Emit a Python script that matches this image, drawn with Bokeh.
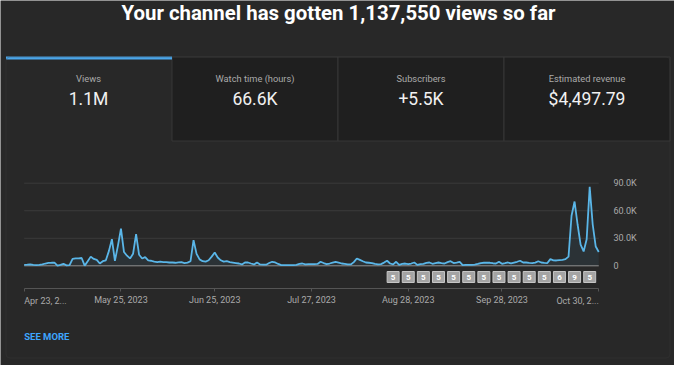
import numpy as np
from bokeh.plotting import figure
from bokeh.models import Range1d, LinearAxis, FixedTicker, BoxAnnotation
from bokeh.core.properties import value
from bokeh.embed import file_html
from bokeh.resources import INLINE

# ---------------- data ----------------
title_text = "Your channel has gotten 1,137,550 views so far"
card_labels = ["Views", "Watch time (hours)", "Subscribers", "Estimated revenue"]
card_values = ["1.1M", "66.6K", "+5.5K", "$4,497.79"]
start_date = "2023-04-23"  # day 0
# daily views (thousands), Apr 23 .. Oct 30, 2023
views_k = [
    1.0, 1.2, 1.5, 1.0, 0.8, 1.0, 1.5, 2.5, 3.2, 3.3,
    3.5, 0.3, 1.0, 2.2, 0.5, 0.8, 7.5, 8.0, 8.0, 8.5,
    0.2, 5.0, 10.0, 7.5, 6.5, 2.5, 5.0, 6.0, 16.0, 29.0,
    5.5, 22.0, 40.5, 15.0, 11.0, 8.0, 13.0, 34.5, 12.0, 8.0,
    9.5, 6.0, 5.5, 4.5, 4.0, 4.5, 4.0, 4.0, 3.6, 3.6,
    3.3, 3.8, 4.0, 3.0, 3.5, 5.0, 28.0, 13.0, 7.0, 5.0,
    4.5, 6.0, 10.0, 14.5, 9.0, 6.0, 4.5, 5.0, 4.0, 3.5,
    3.0, 2.5, 1.5, 3.6, 3.6, 2.5, 1.5, 3.6, 1.5, 1.2,
    1.2, 3.0, 4.4, 3.6, 2.0, 0.8, 0.7, 0.7, 0.8, 0.8,
    1.0, 2.0, 2.5, 1.5, 1.8, 1.8, 1.8, 2.0, 4.4, 3.0,
    1.8, 2.5, 3.5, 4.4, 3.5, 2.5, 2.0, 1.5, 1.5, 4.0,
    8.0, 6.5, 5.0, 3.6, 3.3, 3.0, 2.0, 1.5, 1.8, 3.5,
    5.5, 2.5, 1.5, 4.4, 1.0, 2.0, 2.5, 1.8, 2.5, 3.6,
    1.0, 1.8, 2.2, 3.2, 3.6, 2.2, 3.0, 3.6, 3.0, 2.5,
    4.0, 5.0, 3.0, 3.5, 4.4, 0.7, 1.0, 1.0, 1.0, 1.2,
    2.0, 3.0, 3.3, 3.3, 3.3, 2.8, 2.5, 4.4, 2.2, 2.8,
    3.6, 2.6, 3.5, 4.4, 5.5, 3.6, 3.6, 3.2, 3.0, 3.5,
    5.0, 3.6, 3.2, 3.0, 7.3, 6.0, 5.8, 6.2, 6.5, 7.3,
    10.0, 54.5, 70.0, 45.0, 23.0, 15.6, 29.0, 86.0, 45.0, 21.0,
    15.0,
]
tick_days = [0, 32, 63, 95, 127, 158, 190]
tick_labels = ["Apr 23, 2...", "May 25, 2023", "Jun 25, 2023", "Jul 27, 2023",
               "Aug 28, 2023", "Sep 28, 2023", "Oct 30, 2..."]
y_ticks = [0, 30000, 60000, 90000]
y_tick_labels = ["0", "30.0K", "60.0K", "90.0K"]
marker_days = [122, 127, 132, 137, 142, 147, 152, 157, 162, 167, 172, 177, 182, 187]
marker_counts = ["5", "5", "5", "5", "5", "5", "5", "5", "5", "5", "5", "6", "9", "5"]

days = np.arange(len(views_k))
views = np.array(views_k) * 1000.0

# ---------------- layout (page pixels) ----------------
W, H = 674, 365
PAGE_X0, PAGE_Y0 = 8, 8
DAY0_PX, PX_PER_DAY = 31.7, 3.024
ZERO_PX, PX_PER_VIEW = 273.3, 0.9178 / 1000.0


def day_at(px):
    return (px - DAY0_PX) / PX_PER_DAY


def val_at(py):
    return (ZERO_PX - py) / PX_PER_VIEW


BG = "#282828"
LINE = "#5ab6e8"
FONT = value("Roboto")

p = figure(width=W, height=H,
           x_range=Range1d(day_at(PAGE_X0), day_at(PAGE_X0 + W)),
           y_range=Range1d(val_at(PAGE_Y0 + H), val_at(PAGE_Y0)),
           x_axis_location=None, y_axis_location=None,
           toolbar_location=None, output_backend="svg", min_border=0,
           background_fill_color=BG, border_fill_color=BG, outline_line_color=None)
p.grid.visible = False
p.extra_x_ranges = {"px": Range1d(PAGE_X0, PAGE_X0 + W)}
p.extra_y_ranges = {"py": Range1d(PAGE_Y0 + H, PAGE_Y0)}
PX = dict(x_range_name="px", y_range_name="py")

# panel + cards
p.add_layout(BoxAnnotation(left=13.5, right=677.5, top=64.5, bottom=365.5,
                           fill_color=None, line_color="#3a3a3a", line_width=1,
                           border_radius=4, **PX))
p.quad(left=[179.5, 345.5, 511.5], right=[345.5, 511.5, 677.5], top=64.5, bottom=148.5,
       fill_color="#1f1f1f", line_color="#363636", line_width=1, **PX)
p.quad(left=13.5, right=179.5, top=64, bottom=67, fill_color="#4aa6ea", line_color=None, **PX)

card_cx = [96, 262.5, 428.5, 594.5]
p.text(x=card_cx, y=86, text=card_labels, text_align="center", text_baseline="middle",
       text_color="#aaaaaa", text_font=FONT, text_font_size="9.3px", **PX)
p.text(x=card_cx, y=106.5, text=card_values, text_align="center", text_baseline="middle",
       text_color="#f1f1f1", text_font=FONT, text_font_size="17.5px", **PX)

p.text(x=346, y=20.5, text=[title_text], text_align="center", text_baseline="middle",
       text_color="#ffffff", text_font=FONT, text_font_style="bold",
       text_font_size="20.4px", **PX)

p.text(x=31.7, y=344, text=["SEE MORE"], text_align="left", text_baseline="middle",
       text_color="#3ea6ff", text_font=FONT, text_font_style="bold",
       text_font_size="9.5px", **PX)

# chart
p.segment(x0=tick_days[0], x1=tick_days[-1], y0=y_ticks[1:], y1=y_ticks[1:],
          line_color="#3b3b3b", line_width=1)
p.varea(x=days, y1=0, y2=views, fill_color=LINE, fill_alpha=0.08)
p.segment(x0=tick_days[0], x1=tick_days[-1], y0=0, y1=0, line_color="#8f8f8f", line_width=1)
p.line(days, views, line_color=LINE, line_width=1.8)

# upload markers
mk_y = val_at(284.5)
p.rect(x=marker_days, y=mk_y, width=12, height=11, width_units="screen",
       height_units="screen", fill_color="#a4a4a4", line_color="#c6c6c6", line_width=1)
p.text(x=marker_days, y=mk_y, text=marker_counts, text_align="center",
       text_baseline="middle", text_color="#ffffff", text_font=FONT,
       text_font_style="bold", text_font_size="8px")

# x axis (line, ticks, middle labels)
xax = LinearAxis(fixed_location=val_at(295.7), ticker=FixedTicker(ticks=tick_days),
                 bounds=(tick_days[0], tick_days[-1]),
                 axis_line_color="#555555", axis_line_width=1,
                 major_tick_line_color="#555555", major_tick_in=0, major_tick_out=3,
                 minor_tick_line_color=None, major_label_standoff=4,
                 major_label_text_color="#aaaaaa", major_label_text_font="Roboto",
                 major_label_text_font_size="9px")
xax.major_label_overrides = {d: (lab if 0 < i < len(tick_days) - 1 else "")
                             for i, (d, lab) in enumerate(zip(tick_days, tick_labels))}
p.add_layout(xax, "below")
# first / last labels aligned to the axis ends
p.text(x=[tick_days[0], tick_days[-1]], y=val_at(308),
       text=[tick_labels[0], tick_labels[-1]], text_align=["left", "right"],
       text_baseline="middle", text_color="#aaaaaa", text_font=FONT, text_font_size="9px")

# y axis on the right
yax = LinearAxis(fixed_location=day_at(617), ticker=FixedTicker(ticks=y_ticks),
                 axis_line_color=None, major_tick_line_color=None, minor_tick_line_color=None,
                 major_tick_in=0, major_tick_out=0, major_label_standoff=4,
                 major_label_text_color="#aaaaaa", major_label_text_font="Roboto",
                 major_label_text_font_size="9px",
                 major_label_overrides=dict(zip(y_ticks, y_tick_labels)))
p.add_layout(yax, "right")

html = file_html(p, INLINE)
html = html.replace("<body>", '<body style="background:#282828">', 1)
open("out.html", "w").write(html)
